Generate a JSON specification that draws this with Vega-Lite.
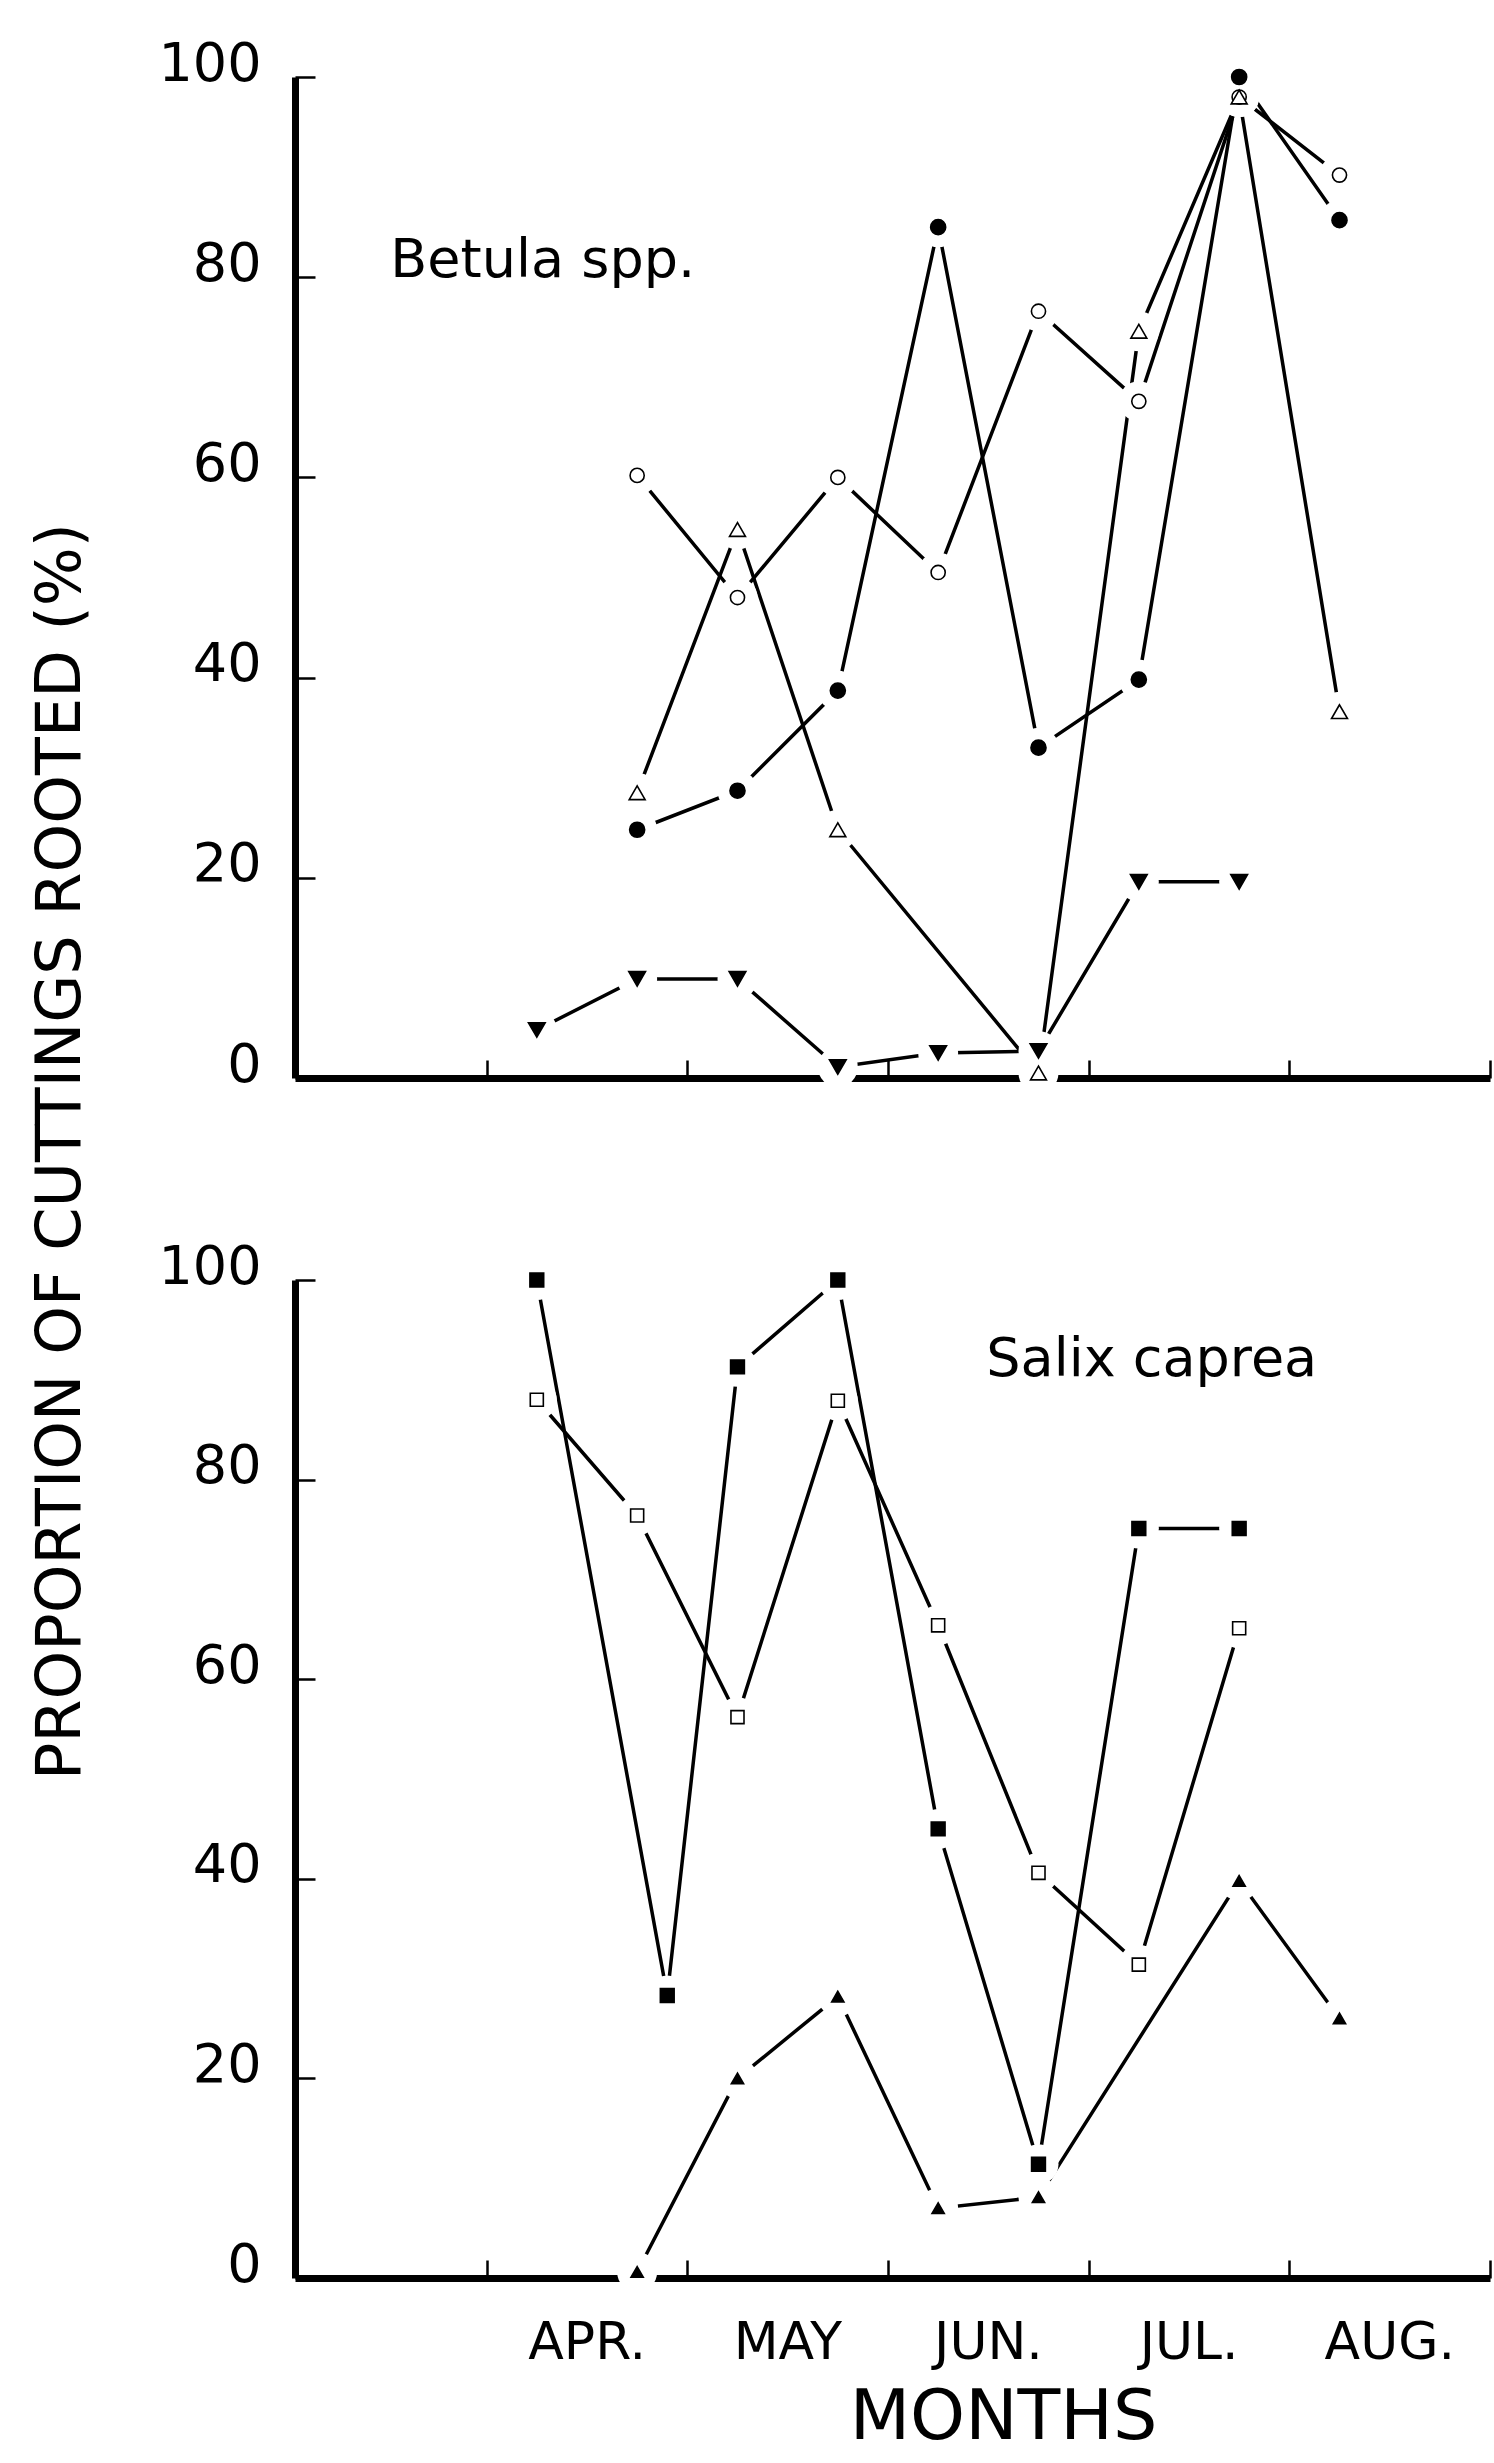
{
  "$schema": "https://vega.github.io/schema/vega-lite/v6.json",
  "background": "white",
  "padding": {"left": 29, "top": 37, "right": 0, "bottom": 8},
  "config": {
    "view": {"stroke": null},
    "font": "DejaVu Sans",
    "axis": {
      "domainColor": "black", "tickColor": "black", "labelColor": "black", "titleColor": "black",
      "grid": false, "labelFont": "DejaVu Sans", "titleFont": "DejaVu Sans",
      "titleFontWeight": "normal", "zindex": 1, "labelFlush": false, "labelOverlap": false
    }
  },
  "datasets": {
    "betula": [
      {"series": "open circle", "month": 4.75, "pct": 60.2},
      {"series": "open circle", "month": 5.25, "pct": 48},
      {"series": "open circle", "month": 5.75, "pct": 60},
      {"series": "open circle", "month": 6.25, "pct": 50.5},
      {"series": "open circle", "month": 6.75, "pct": 76.6},
      {"series": "open circle", "month": 7.25, "pct": 67.6},
      {"series": "open circle", "month": 7.75, "pct": 98},
      {"series": "open circle", "month": 8.25, "pct": 90.2},
      {"series": "filled circle", "month": 4.75, "pct": 24.8},
      {"series": "filled circle", "month": 5.25, "pct": 28.7},
      {"series": "filled circle", "month": 5.75, "pct": 38.7},
      {"series": "filled circle", "month": 6.25, "pct": 85},
      {"series": "filled circle", "month": 6.75, "pct": 33},
      {"series": "filled circle", "month": 7.25, "pct": 39.8},
      {"series": "filled circle", "month": 7.75, "pct": 100},
      {"series": "filled circle", "month": 8.25, "pct": 85.7},
      {"series": "open triangle", "month": 4.75, "pct": 28.5},
      {"series": "open triangle", "month": 5.25, "pct": 54.8},
      {"series": "open triangle", "month": 5.75, "pct": 24.8},
      {"series": "open triangle", "month": 6.75, "pct": 0.5},
      {"series": "open triangle", "month": 7.25, "pct": 74.6},
      {"series": "open triangle", "month": 7.75, "pct": 98},
      {"series": "open triangle", "month": 8.25, "pct": 36.6},
      {"series": "filled triangle", "month": 4.25, "pct": 4.8},
      {"series": "filled triangle", "month": 4.75, "pct": 9.9},
      {"series": "filled triangle", "month": 5.25, "pct": 9.9},
      {"series": "filled triangle", "month": 5.75, "pct": 1.1},
      {"series": "filled triangle", "month": 6.25, "pct": 2.5},
      {"series": "filled triangle", "month": 6.75, "pct": 2.7},
      {"series": "filled triangle", "month": 7.25, "pct": 19.6},
      {"series": "filled triangle", "month": 7.75, "pct": 19.6}
    ],
    "salix": [
      {"series": "filled square", "month": 4.25, "pct": 100},
      {"series": "filled square", "month": 4.9, "pct": 28.3},
      {"series": "filled square", "month": 5.25, "pct": 91.3},
      {"series": "filled square", "month": 5.75, "pct": 100},
      {"series": "filled square", "month": 6.25, "pct": 45},
      {"series": "filled square", "month": 6.75, "pct": 11.4},
      {"series": "filled square", "month": 7.25, "pct": 75.1},
      {"series": "filled square", "month": 7.75, "pct": 75.1},
      {"series": "open square", "month": 4.25, "pct": 88},
      {"series": "open square", "month": 4.75, "pct": 76.4},
      {"series": "open square", "month": 5.25, "pct": 56.2},
      {"series": "open square", "month": 5.75, "pct": 87.9},
      {"series": "open square", "month": 6.25, "pct": 65.4},
      {"series": "open square", "month": 6.75, "pct": 40.6},
      {"series": "open square", "month": 7.25, "pct": 31.4},
      {"series": "open square", "month": 7.75, "pct": 65.1},
      {"series": "filled triangle up", "month": 4.75, "pct": 0.6},
      {"series": "filled triangle up", "month": 5.25, "pct": 20},
      {"series": "filled triangle up", "month": 5.75, "pct": 28.2},
      {"series": "filled triangle up", "month": 6.25, "pct": 7},
      {"series": "filled triangle up", "month": 6.75, "pct": 8.1},
      {"series": "filled triangle up", "month": 7.75, "pct": 39.8},
      {"series": "filled triangle up", "month": 8.25, "pct": 26}
    ]
  },
  "spacing": 202,
  "bounds": "flush",
  "resolve": {"scale": {"shape": "independent", "fill": "independent", "size": "independent"}},
  "vconcat": [
    {
      "width": 1195,
      "height": 1001,
      "layer": [
        {"data": {"name": "betula"},
         "mark": {"type": "line", "stroke": "black", "strokeWidth": 3.5},
         "encoding": {
           "x": {"field": "month", "type": "quantitative",
                 "scale": {"domain": [3.045, 9], "nice": false, "zero": false},
                 "axis": {"values": [4, 5, 6, 7, 8, 9], "labels": false, "title": null,
                          "domainWidth": 7, "tickSize": -18, "tickWidth": 2.5}},
           "y": {"field": "pct", "type": "quantitative",
                 "scale": {"domain": [0, 100], "nice": false},
                 "axis": {"values": [0, 20, 40, 60, 80, 100], "domainWidth": 7, "tickSize": -20, "tickWidth": 2.5,
                          "labelFontSize": 54, "labelPadding": 54, "labelBaseline": "middle", "labelOffset": -13,
                          "title": "PROPORTION OF CUTTINGS ROOTED (%)", "titleFontSize": 62,
                          "titleX": -235, "titleY": 1074, "titleAngle": 270, "titleAlign": "center", "titleBaseline": "middle"}},
           "detail": {"field": "series"}
         }},
        {"data": {"name": "betula"},
         "mark": {"type": "point", "shape": "circle", "filled": true, "fill": "white", "strokeWidth": 0, "size": 1600, "opacity": 1},
         "encoding": {"x": {"field": "month", "type": "quantitative"}, "y": {"field": "pct", "type": "quantitative"}}},
        {"data": {"name": "betula"},
         "mark": {"type": "point", "filled": true, "stroke": "black", "strokeWidth": 1.6, "opacity": 1},
         "encoding": {
           "x": {"field": "month", "type": "quantitative"},
           "y": {"field": "pct", "type": "quantitative"},
           "shape": {"field": "series", "type": "nominal", "scale": {"domain": ["open circle", "filled circle", "open triangle", "filled triangle"], "range": ["circle", "circle", "triangle-up", "triangle-down"]}, "legend": null},
           "fill": {"field": "series", "type": "nominal", "scale": {"domain": ["open circle", "filled circle", "open triangle", "filled triangle"], "range": ["white", "black", "white", "black"]}, "legend": null},
           "size": {"field": "series", "type": "nominal", "scale": {"domain": ["open circle", "filled circle", "open triangle", "filled triangle"], "range": [200, 280, 180, 170]}, "legend": null}
         }},
        {"data": {"values": [{"label": "Betula spp."}]},
         "mark": {"type": "text", "fontSize": 54, "align": "left", "baseline": "alphabetic", "font": "DejaVu Sans", "fill": "black"},
         "encoding": {"x": {"datum": 3.52, "type": "quantitative"}, "y": {"datum": 80, "type": "quantitative"}, "text": {"field": "label", "type": "nominal"}}}
      ]
    },
    {
      "width": 1195,
      "height": 998,
      "layer": [
        {"data": {"name": "salix"},
         "mark": {"type": "line", "stroke": "black", "strokeWidth": 3.5},
         "encoding": {
           "x": {"field": "month", "type": "quantitative",
                 "scale": {"domain": [3.045, 9], "nice": false, "zero": false},
                 "axis": {"values": [4, 5, 6, 7, 8, 9],
                          "labelExpr": "datum.value == 4 ? 'APR.' : datum.value == 5 ? 'MAY' : datum.value == 6 ? 'JUN.' : datum.value == 7 ? 'JUL.' : datum.value == 8 ? 'AUG.' : ''",
                          "labelOffset": 100, "labelFontSize": 52, "labelPadding": 57, "labelBaseline": "top",
                          "domainWidth": 7, "tickSize": -18, "tickWidth": 2.5,
                          "title": "MONTHS", "titleFontSize": 70, "titleX": 708, "titleY": 160,
                          "titleBaseline": "alphabetic", "titleAlign": "center"}},
           "y": {"field": "pct", "type": "quantitative",
                 "scale": {"domain": [0, 100], "nice": false},
                 "axis": {"values": [0, 20, 40, 60, 80, 100], "domainWidth": 7, "tickSize": -20, "tickWidth": 2.5,
                          "labelFontSize": 54, "labelPadding": 54, "labelBaseline": "middle", "labelOffset": -13,
                          "title": null}},
           "detail": {"field": "series"}
         }},
        {"data": {"name": "salix"},
         "mark": {"type": "point", "shape": "circle", "filled": true, "fill": "white", "strokeWidth": 0, "size": 1600, "opacity": 1},
         "encoding": {"x": {"field": "month", "type": "quantitative"}, "y": {"field": "pct", "type": "quantitative"}}},
        {"data": {"name": "salix"},
         "mark": {"type": "point", "filled": true, "stroke": "black", "strokeWidth": 1.6, "opacity": 1},
         "encoding": {
           "x": {"field": "month", "type": "quantitative"},
           "y": {"field": "pct", "type": "quantitative"},
           "shape": {"field": "series", "type": "nominal", "scale": {"domain": ["filled square", "open square", "filled triangle up"], "range": ["square", "square", "triangle-up"]}, "legend": null},
           "fill": {"field": "series", "type": "nominal", "scale": {"domain": ["filled square", "open square", "filled triangle up"], "range": ["black", "white", "black"]}, "legend": null},
           "size": {"field": "series", "type": "nominal", "scale": {"domain": ["filled square", "open square", "filled triangle up"], "range": [190, 150, 180]}, "legend": null}
         }},
        {"data": {"values": [{"label": "Salix caprea"}]},
         "mark": {"type": "text", "fontSize": 54, "align": "left", "baseline": "alphabetic", "font": "DejaVu Sans", "fill": "black"},
         "encoding": {"x": {"datum": 6.49, "type": "quantitative"}, "y": {"datum": 90.4, "type": "quantitative"}, "text": {"field": "label", "type": "nominal"}}}
      ]
    }
  ]
}
